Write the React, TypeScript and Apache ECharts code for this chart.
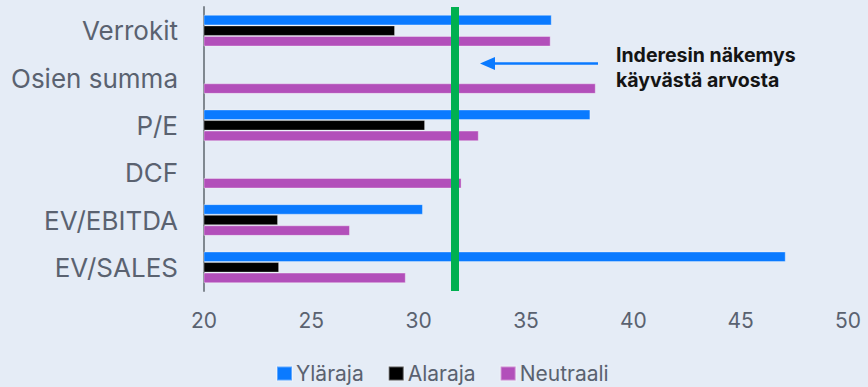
import React, { useEffect, useRef } from "react";
import * as echarts from "echarts";

// Valuation methods, listed top to bottom
const categories = ["Verrokit", "Osien summa", "P/E", "DCF", "EV/EBITDA", "EV/SALES"];
const seriesNames = ["Yläraja", "Alaraja", "Neutraali"];

// Upper bound, lower bound and neutral value per method (null = not given)
const upper: (number | null)[] = [36.2, null, 38.0, null, 30.2, 47.1];
const lower: (number | null)[] = [28.9, null, 30.3, null, 23.45, 23.5];
const neutral: (number | null)[] = [36.15, 38.25, 32.8, 32.0, 26.8, 29.4];

// Inderes' fair value estimate
const fairValue = 31.7;

const xTicks = { min: 20, max: 50, interval: 5 };

const colors = ["#0A7AFF", "#000000", "#B24FBA"];
const textGray = "#5A6270";
const fontFamily = "Inter, 'Open Sans', sans-serif";

export default function App() {
  const ref = useRef<HTMLDivElement>(null);

  useEffect(() => {
    if (!ref.current) return;
    const chart = echarts.init(ref.current, undefined, { renderer: "svg" });
    const values = [upper, lower, neutral];

    chart.setOption({
      animation: false,
      backgroundColor: "#E5ECF6",
      textStyle: { fontFamily },
      grid: { left: 204, right: 20, top: 7, bottom: 96, containLabel: false },
      legend: {
        left: 276,
        top: 362,
        padding: 0,
        icon: "rect",
        itemWidth: 15,
        itemHeight: 14,
        itemGap: 24,
        textStyle: { fontSize: 21, lineHeight: 23, color: textGray, fontFamily, padding: [0, 0, 0, -1] },
        data: seriesNames,
      },
      xAxis: {
        type: "value",
        min: xTicks.min,
        max: xTicks.max,
        interval: xTicks.interval,
        axisLine: { show: false },
        axisTick: { show: false },
        splitLine: { show: false },
        axisLabel: { fontSize: 21, color: textGray, margin: 19, fontFamily },
      },
      yAxis: {
        type: "category",
        inverse: true,
        data: categories,
        axisLine: { show: true, lineStyle: { color: "#808890", width: 2 } },
        axisTick: { show: false },
        axisLabel: { fontSize: 26, color: textGray, margin: 26, fontFamily },
      },
      series: seriesNames.map((name, i) => ({
        name,
        type: "bar",
        data: values[i],
        barGap: "0%",
        barCategoryGap: "33%",
        itemStyle: { color: colors[i], borderColor: "rgba(255,255,255,0.35)", borderWidth: 1 },
        ...(i === 0
          ? {
              markLine: {
                silent: true,
                symbol: "none",
                label: { show: false },
                lineStyle: { color: "#00B050", width: 8, type: "solid" },
                data: [{ xAxis: fairValue }],
              },
            }
          : {}),
      })),
      graphic: [
        {
          type: "line",
          shape: { x1: 598, y1: 63.5, x2: 492, y2: 63.5 },
          style: { stroke: "#0A7AFF", lineWidth: 2.3 },
        },
        {
          type: "polygon",
          shape: { points: [[480, 63.5], [495, 57], [495, 70]] },
          style: { fill: "#0A7AFF" },
        },
        {
          type: "text",
          left: 616,
          top: 42,
          style: {
            text: "Inderesin näkemys\nkäyvästä arvosta",
            fontSize: 19.5,
            fontWeight: "bold",
            lineHeight: 25,
            fill: "#141414",
            fontFamily,
          },
        },
      ],
    });

    return () => chart.dispose();
  }, []);

  return (
    <div
      ref={ref}
      style={{ position: "fixed", left: 0, top: 0, width: 868, height: 387 }}
    />
  );
}
